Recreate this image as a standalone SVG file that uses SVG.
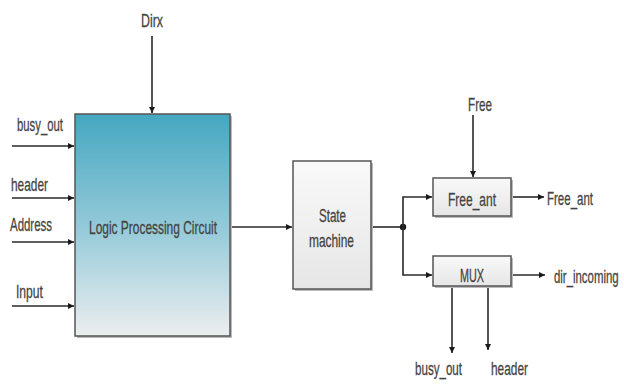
<svg xmlns="http://www.w3.org/2000/svg" width="624" height="385" viewBox="0 0 624 385">
<style>
.lbl{font-family:"Liberation Sans",Arial,sans-serif;font-size:19px;fill:#444;stroke:#444;stroke-width:0.3;}
.ln{stroke:#2a2a2a;stroke-width:1.6;fill:none;}
.box{stroke:#555;stroke-width:1.5;}
.sh{fill:#bbb;}
</style>
<defs>
<marker id="ah" viewBox="0 0 10 10" refX="10" refY="5" markerWidth="6" markerHeight="6" markerUnits="userSpaceOnUse" orient="auto">
<path d="M0,0 L10,5 L0,10 z" fill="#1a1a1a"/>
</marker>
<linearGradient id="gLogic" x1="0" y1="0" x2="0" y2="1">
<stop offset="0" stop-color="#45a7c1"/>
<stop offset="0.5" stop-color="#92c9d8"/>
<stop offset="1" stop-color="#eceeef"/>
</linearGradient>
<linearGradient id="gGray" x1="0" y1="0" x2="0" y2="1">
<stop offset="0" stop-color="#f9f9f9"/>
<stop offset="1" stop-color="#e6e6e6"/>
</linearGradient>
</defs>
<rect width="624" height="385" fill="#fff"/>

<g id="connectors">
<line class="ln" x1="152" y1="36" x2="152" y2="113" marker-end="url(#ah)"/>
<line class="ln" x1="12" y1="146" x2="74" y2="146" marker-end="url(#ah)"/>
<line class="ln" x1="12" y1="198" x2="74" y2="198" marker-end="url(#ah)"/>
<line class="ln" x1="12" y1="242" x2="74" y2="242" marker-end="url(#ah)"/>
<line class="ln" x1="12" y1="306" x2="74" y2="306" marker-end="url(#ah)"/>
<line class="ln" x1="231" y1="227" x2="292" y2="227" marker-end="url(#ah)"/>
<line class="ln" x1="371" y1="227" x2="403" y2="227"/>
<circle cx="403" cy="227" r="3.2" fill="#1a1a1a"/>
<polyline class="ln" points="403,227 403,197 432,197" marker-end="url(#ah)"/>
<polyline class="ln" points="403,227 403,275 432,275" marker-end="url(#ah)"/>
<line class="ln" x1="473" y1="115" x2="473" y2="177" marker-end="url(#ah)"/>
<line class="ln" x1="512" y1="197" x2="544" y2="197" marker-end="url(#ah)"/>
<line class="ln" x1="512" y1="275" x2="545" y2="275" marker-end="url(#ah)"/>
<line class="ln" x1="452" y1="287" x2="452" y2="353" marker-end="url(#ah)"/>
<line class="ln" x1="488" y1="287" x2="488" y2="350" marker-end="url(#ah)"/>
</g>

<g id="logic">
<rect class="sh" x="77" y="116" width="155" height="222"/>
<rect class="box" x="75" y="114" width="155" height="222" fill="url(#gLogic)"/>
<text class="lbl" x="89" y="234" font-size="22" textLength="128" lengthAdjust="spacingAndGlyphs">Logic Processing Circuit</text>
</g>

<g id="state">
<rect class="sh" x="295" y="163" width="78" height="128"/>
<rect class="box" x="293" y="161" width="78" height="128" fill="url(#gGray)"/>
<text class="lbl" x="319" y="222" textLength="27" lengthAdjust="spacingAndGlyphs">State</text>
<text class="lbl" x="309" y="247" textLength="45" lengthAdjust="spacingAndGlyphs">machine</text>
</g>

<g id="freeant">
<rect class="sh" x="435" y="180" width="78" height="38"/>
<rect class="box" x="433" y="178" width="78" height="38" fill="url(#gGray)"/>
<text class="lbl" x="448" y="206" textLength="48" lengthAdjust="spacingAndGlyphs">Free_ant</text>
</g>

<g id="mux">
<rect class="sh" x="435" y="258" width="78" height="30"/>
<rect class="box" x="433" y="256" width="78" height="30" fill="url(#gGray)"/>
<text class="lbl" x="460" y="282" textLength="24" lengthAdjust="spacingAndGlyphs">MUX</text>
</g>

<g id="labels">
<text class="lbl" x="141" y="27" textLength="22" lengthAdjust="spacingAndGlyphs">Dirx</text>
<text class="lbl" x="17" y="131" textLength="46" lengthAdjust="spacingAndGlyphs">busy_out</text>
<text class="lbl" x="11" y="191" textLength="37" lengthAdjust="spacingAndGlyphs">header</text>
<text class="lbl" x="10" y="231" textLength="42" lengthAdjust="spacingAndGlyphs">Address</text>
<text class="lbl" x="16" y="298" textLength="27" lengthAdjust="spacingAndGlyphs">Input</text>
<text class="lbl" x="468" y="111" textLength="24" lengthAdjust="spacingAndGlyphs">Free</text>
<text class="lbl" x="547" y="205" textLength="46" lengthAdjust="spacingAndGlyphs">Free_ant</text>
<text class="lbl" transform="translate(554,283) scale(0.6,1)">dir_incoming</text>
<text class="lbl" x="415" y="375" textLength="47" lengthAdjust="spacingAndGlyphs">busy_out</text>
<text class="lbl" x="491" y="375" textLength="37" lengthAdjust="spacingAndGlyphs">header</text>
</g>
</svg>
